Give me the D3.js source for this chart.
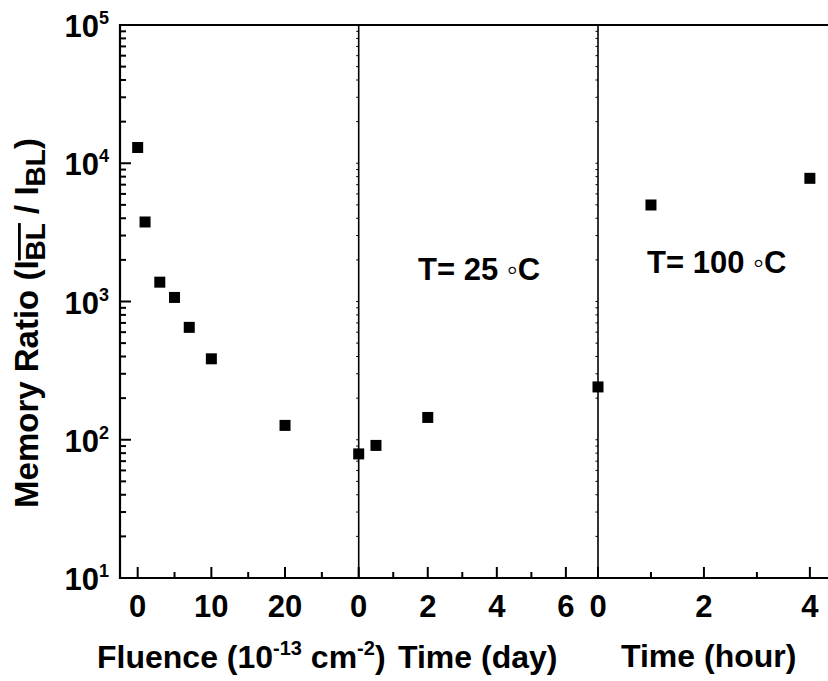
<!DOCTYPE html>
<html>
<head>
<meta charset="utf-8">
<title>Memory ratio vs fluence and time</title>
<script src="https://cdn.jsdelivr.net/npm/d3@7"></script>
<style>
    body { margin: 0; background: #fff; }
    text { font-family: Arial, "Liberation Sans", sans-serif; font-weight: bold; fill: #000; }
</style>
</head>
<body>
<script>
    // data
    var fluence = [0, 1, 3, 5, 7, 10, 20];
    var ratioFluence = [13000, 3760, 1380, 1070, 650, 385, 127];
    var days = [0, 0.5, 2];
    var ratioDays = [79, 91, 145];
    var hours = [0, 1, 4];
    var ratioHours = [241, 4990, 7780];

    // tick values
    var yMajor = [10, 100, 1000, 10000, 100000];
    var fluenceTicks = [0, 10, 20], fluenceMinor = [5, 15, 25];
    var dayTicks = [0, 2, 4, 6], dayMinor = [1, 3, 5];
    var hourTicks = [0, 2, 4], hourMinor = [1, 3];

    var width = 828, height = 681;
    var plotTop = 25, plotBottom = 578, plotLeft = 120;
    var sep1 = 358.7, sep2 = 598, plotRight = 830;

    var svg = d3.select('body').append('svg').attr('width', width).attr('height', height);

    var y = d3.scaleLog().domain([10, 1e5]).range([plotBottom, plotTop]);
    var x1 = d3.scaleLinear().domain([-2.4, 30]).range([plotLeft, sep1]);
    var x2 = d3.scaleLinear().domain([0, 6.93]).range([sep1, sep2]);
    var x3 = d3.scaleLinear().domain([0, 4.38]).range([sep2, plotRight]);

    var yMinor = [];
    yMajor.slice(0, -1).forEach(function (d) {
        for (var k = 2; k <= 9; k++) yMinor.push(d * k);
    });

    // frame and separators
    svg.append('line').attr('x1', plotLeft).attr('x2', plotLeft).attr('y1', plotTop - 1).attr('y2', plotBottom + 1)
            .attr('stroke', '#000').attr('stroke-width', 2.2);
    svg.append('line').attr('x1', plotLeft).attr('x2', width).attr('y1', plotBottom).attr('y2', plotBottom)
            .attr('stroke', '#000').attr('stroke-width', 2.2);
    svg.append('line').attr('x1', plotLeft).attr('x2', width).attr('y1', plotTop).attr('y2', plotTop)
            .attr('stroke', '#000').attr('stroke-width', 2.2);
    [sep1, sep2].forEach(function (sx) {
        svg.append('line').attr('x1', sx).attr('x2', sx).attr('y1', plotTop).attr('y2', plotBottom)
                .attr('stroke', '#000').attr('stroke-width', 1.6);
    });

    // y ticks, pointing into the plot
    function yTicks(x0, values, len, w) {
        svg.append('g').selectAll('line').data(values).enter().append('line')
                .attr('x1', x0).attr('x2', x0 + len)
                .attr('y1', function (d) { return y(d); })
                .attr('y2', function (d) { return y(d); })
                .attr('stroke', '#000').attr('stroke-width', w);
    }
    yTicks(plotLeft, yMajor, 11, 2);
    yTicks(plotLeft, yMinor, 6, 2);
    yTicks(sep1, yMajor.concat(yMinor), -2.5, 1);
    yTicks(sep2, yMajor.concat(yMinor), -2.5, 1);

    var ylab = svg.append('g').selectAll('text').data(yMajor).enter().append('text')
            .attr('text-anchor', 'end')
            .attr('x', 109)
            .attr('y', function (d) { return y(d) + 12; })
            .attr('font-size', 31);
    ylab.append('tspan').text('10');
    ylab.append('tspan').attr('font-size', 18).attr('dy', -13)
            .text(function (d) { return Math.round(Math.log10(d)); });

    // x ticks and labels, three panels
    function xAxis(scale, major, minor) {
        var g = svg.append('g');
        g.selectAll('line.major').data(major).enter().append('line')
                .attr('class', 'major')
                .attr('x1', function (d) { return scale(d); })
                .attr('x2', function (d) { return scale(d); })
                .attr('y1', plotBottom).attr('y2', plotBottom - 11)
                .attr('stroke', '#000').attr('stroke-width', 2);
        g.selectAll('line.minor').data(minor).enter().append('line')
                .attr('class', 'minor')
                .attr('x1', function (d) { return scale(d); })
                .attr('x2', function (d) { return scale(d); })
                .attr('y1', plotBottom).attr('y2', plotBottom - 6)
                .attr('stroke', '#000').attr('stroke-width', 2);
        g.selectAll('text').data(major).enter().append('text')
                .attr('x', function (d) { return scale(d); })
                .attr('y', plotBottom + 39)
                .attr('text-anchor', 'middle')
                .attr('font-size', 31)
                .text(function (d) { return d; });
    }
    xAxis(x1, fluenceTicks, fluenceMinor);
    xAxis(x2, dayTicks, dayMinor);
    xAxis(x3, hourTicks, hourMinor);

    // points
    var size = 11;
    function squares(xs, ys, scale) {
        svg.append('g').selectAll('rect').data(xs).enter().append('rect')
                .attr('x', function (d) { return scale(d) - size / 2; })
                .attr('y', function (d, i) { return y(ys[i]) - size / 2; })
                .attr('width', size)
                .attr('height', size)
                .attr('fill', '#000');
    }
    squares(fluence, ratioFluence, x1);
    squares(days, ratioDays, x2);
    squares(hours, ratioHours, x3);

    // annotations
    svg.append('text').attr('x', 418).attr('y', 280).attr('font-size', 31).text('T= 25 \u25E6C');
    svg.append('text').attr('x', 647).attr('y', 273).attr('font-size', 31).text('T= 100 \u25E6C');

    // x titles
    var t1 = svg.append('text').attr('x', 97).attr('y', 668).attr('font-size', 32);
    t1.append('tspan').text('Fluence (10');
    t1.append('tspan').attr('font-size', 20).attr('dy', -13).text('-13');
    t1.append('tspan').attr('dy', 13).text(' cm');
    t1.append('tspan').attr('font-size', 20).attr('dy', -13).text('-2');
    t1.append('tspan').attr('dy', 13).text(')');
    svg.append('text').attr('x', 398).attr('y', 668).attr('font-size', 32).text('Time (day)');
    svg.append('text').attr('x', 621).attr('y', 667).attr('font-size', 32).text('Time (hour)');

    // y title
    var ty = svg.append('text').attr('transform', 'translate(38,323) rotate(-90)')
            .attr('text-anchor', 'middle').attr('font-size', 33);
    ty.append('tspan').text('Memory Ratio (I');
    ty.append('tspan').attr('font-size', 28).attr('dy', 7)
            .style('text-decoration', 'overline').text('BL');
    ty.append('tspan').attr('dy', -7).text(' / I');
    ty.append('tspan').attr('font-size', 28).attr('dy', 7).text('BL');
    ty.append('tspan').attr('dy', -7).text(')');
</script>
</body>
</html>
